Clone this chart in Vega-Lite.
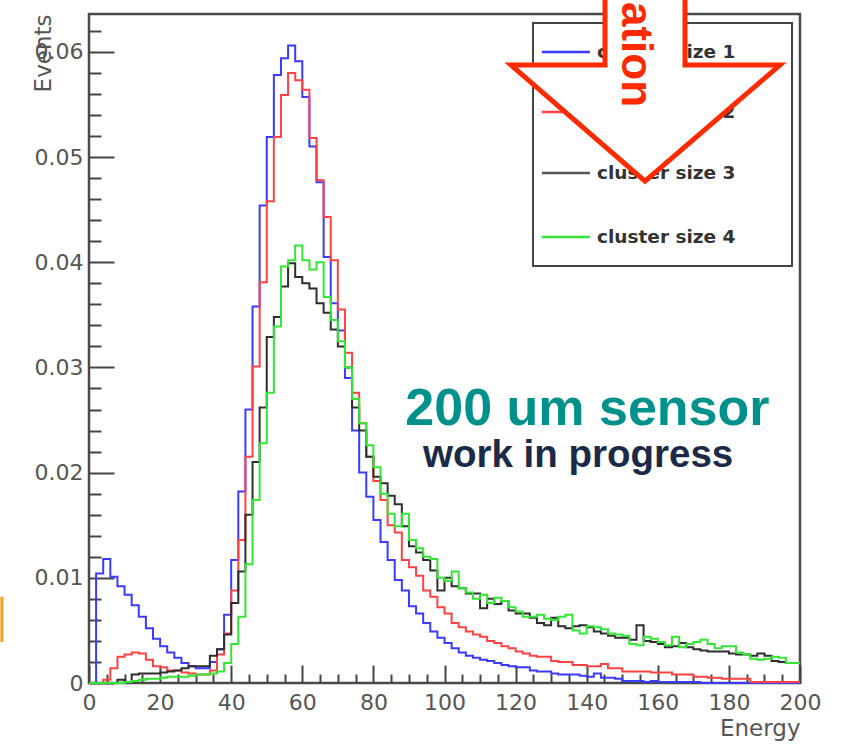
{
  "$schema": "https://vega.github.io/schema/vega-lite/v6.json",
  "autosize": {"type": "none"},
  "padding": {"left": 89, "top": 14, "right": 47, "bottom": 65},
  "width": 711,
  "height": 669,
  "background": "white",
  "config": {
    "view": {"stroke": "#4a4a4a", "strokeWidth": 2.5},
    "axis": {"grid": false, "domain": false}
  },
  "datasets": {
    "hist": [
      {"energy": 0, "size1": 0, "size2": 0, "size3": 0, "size4": 0},
      {"energy": 2, "size1": 0.0104, "size2": 0, "size3": 0, "size4": 0},
      {"energy": 4, "size1": 0.0118, "size2": 0.0003, "size3": 0, "size4": 0},
      {"energy": 6, "size1": 0.0101, "size2": 0.0014, "size3": 0, "size4": 0},
      {"energy": 8, "size1": 0.0092, "size2": 0.0025, "size3": 0.0003, "size4": 0},
      {"energy": 10, "size1": 0.0084, "size2": 0.0027, "size3": 0.0001, "size4": 0.0001},
      {"energy": 12, "size1": 0.0074, "size2": 0.0029, "size3": 0.0008, "size4": 0.0002},
      {"energy": 14, "size1": 0.0063, "size2": 0.0028, "size3": 0.0009, "size4": 0.0003},
      {"energy": 16, "size1": 0.0052, "size2": 0.0022, "size3": 0.0009, "size4": 0.0004},
      {"energy": 18, "size1": 0.0042, "size2": 0.0016, "size3": 0.0009, "size4": 0.0004},
      {"energy": 20, "size1": 0.0035, "size2": 0.0015, "size3": 0.0010, "size4": 0.0005},
      {"energy": 22, "size1": 0.0029, "size2": 0.0012, "size3": 0.0011, "size4": 0.0006},
      {"energy": 24, "size1": 0.0024, "size2": 0.0012, "size3": 0.0012, "size4": 0.0006},
      {"energy": 26, "size1": 0.0019, "size2": 0.0010, "size3": 0.0014, "size4": 0.0006},
      {"energy": 28, "size1": 0.0016, "size2": 0.0009, "size3": 0.0016, "size4": 0.0007},
      {"energy": 30, "size1": 0.0014, "size2": 0.0008, "size3": 0.0016, "size4": 0.0008},
      {"energy": 32, "size1": 0.0014, "size2": 0.0008, "size3": 0.0016, "size4": 0.0008},
      {"energy": 34, "size1": 0.0020, "size2": 0.0012, "size3": 0.0026, "size4": 0.0009},
      {"energy": 36, "size1": 0.0032, "size2": 0.0027, "size3": 0.0032, "size4": 0.0011},
      {"energy": 38, "size1": 0.0065, "size2": 0.0047, "size3": 0.0046, "size4": 0.0019},
      {"energy": 40, "size1": 0.0117, "size2": 0.0088, "size3": 0.0076, "size4": 0.0037},
      {"energy": 42, "size1": 0.0182, "size2": 0.0136, "size3": 0.0106, "size4": 0.0063},
      {"energy": 44, "size1": 0.0260, "size2": 0.0215, "size3": 0.0160, "size4": 0.0113},
      {"energy": 46, "size1": 0.0358, "size2": 0.0301, "size3": 0.0210, "size4": 0.0174},
      {"energy": 48, "size1": 0.0454, "size2": 0.0381, "size3": 0.0262, "size4": 0.0228},
      {"energy": 50, "size1": 0.0519, "size2": 0.0458, "size3": 0.0329, "size4": 0.0276},
      {"energy": 52, "size1": 0.0578, "size2": 0.0519, "size3": 0.0348, "size4": 0.0339},
      {"energy": 54, "size1": 0.0594, "size2": 0.0559, "size3": 0.0377, "size4": 0.0396},
      {"energy": 56, "size1": 0.0606, "size2": 0.0580, "size3": 0.0399, "size4": 0.0402},
      {"energy": 58, "size1": 0.0591, "size2": 0.0573, "size3": 0.0386, "size4": 0.0416},
      {"energy": 60, "size1": 0.0557, "size2": 0.0564, "size3": 0.0380, "size4": 0.0402},
      {"energy": 62, "size1": 0.0510, "size2": 0.0518, "size3": 0.0375, "size4": 0.0393},
      {"energy": 64, "size1": 0.0476, "size2": 0.0478, "size3": 0.0361, "size4": 0.0400},
      {"energy": 66, "size1": 0.0405, "size2": 0.0443, "size3": 0.0352, "size4": 0.0367},
      {"energy": 68, "size1": 0.0361, "size2": 0.0402, "size3": 0.0336, "size4": 0.0345},
      {"energy": 70, "size1": 0.0335, "size2": 0.0355, "size3": 0.0320, "size4": 0.0325},
      {"energy": 72, "size1": 0.0290, "size2": 0.0314, "size3": 0.0300, "size4": 0.0300},
      {"energy": 74, "size1": 0.0240, "size2": 0.0276, "size3": 0.0262, "size4": 0.0270},
      {"energy": 76, "size1": 0.0200, "size2": 0.0247, "size3": 0.0240, "size4": 0.0247},
      {"energy": 78, "size1": 0.0177, "size2": 0.0215, "size3": 0.0215, "size4": 0.0226},
      {"energy": 80, "size1": 0.0155, "size2": 0.0192, "size3": 0.0196, "size4": 0.0205},
      {"energy": 82, "size1": 0.0134, "size2": 0.0174, "size3": 0.0190, "size4": 0.0180},
      {"energy": 84, "size1": 0.0117, "size2": 0.0150, "size3": 0.0178, "size4": 0.0161},
      {"energy": 86, "size1": 0.0098, "size2": 0.0143, "size3": 0.0170, "size4": 0.0149},
      {"energy": 88, "size1": 0.0088, "size2": 0.0117, "size3": 0.0149, "size4": 0.0161},
      {"energy": 90, "size1": 0.0073, "size2": 0.0110, "size3": 0.0130, "size4": 0.0136},
      {"energy": 92, "size1": 0.0066, "size2": 0.0102, "size3": 0.0124, "size4": 0.0128},
      {"energy": 94, "size1": 0.0057, "size2": 0.0088, "size3": 0.0117, "size4": 0.0120},
      {"energy": 96, "size1": 0.0049, "size2": 0.0082, "size3": 0.0107, "size4": 0.0118},
      {"energy": 98, "size1": 0.0043, "size2": 0.0072, "size3": 0.0088, "size4": 0.0100},
      {"energy": 100, "size1": 0.0038, "size2": 0.0066, "size3": 0.0100, "size4": 0.0097},
      {"energy": 102, "size1": 0.0033, "size2": 0.0057, "size3": 0.0092, "size4": 0.0106},
      {"energy": 104, "size1": 0.0029, "size2": 0.0053, "size3": 0.0090, "size4": 0.0090},
      {"energy": 106, "size1": 0.0026, "size2": 0.0049, "size3": 0.0085, "size4": 0.0086},
      {"energy": 108, "size1": 0.0024, "size2": 0.0046, "size3": 0.0085, "size4": 0.0080},
      {"energy": 110, "size1": 0.0022, "size2": 0.0044, "size3": 0.0071, "size4": 0.0084},
      {"energy": 112, "size1": 0.0021, "size2": 0.0040, "size3": 0.0080, "size4": 0.0076},
      {"energy": 114, "size1": 0.0019, "size2": 0.0038, "size3": 0.0075, "size4": 0.0081},
      {"energy": 116, "size1": 0.0017, "size2": 0.0035, "size3": 0.0078, "size4": 0.0078},
      {"energy": 118, "size1": 0.0016, "size2": 0.0033, "size3": 0.0069, "size4": 0.0072},
      {"energy": 120, "size1": 0.0015, "size2": 0.0030, "size3": 0.0066, "size4": 0.0068},
      {"energy": 122, "size1": 0.0015, "size2": 0.0028, "size3": 0.0066, "size4": 0.0063},
      {"energy": 124, "size1": 0.0012, "size2": 0.0026, "size3": 0.0062, "size4": 0.0063},
      {"energy": 126, "size1": 0.0011, "size2": 0.0025, "size3": 0.0057, "size4": 0.0065},
      {"energy": 128, "size1": 0.0011, "size2": 0.0025, "size3": 0.0055, "size4": 0.0061},
      {"energy": 130, "size1": 0.0009, "size2": 0.0021, "size3": 0.0062, "size4": 0.0060},
      {"energy": 132, "size1": 0.0008, "size2": 0.0020, "size3": 0.0054, "size4": 0.0063},
      {"energy": 134, "size1": 0.0008, "size2": 0.0020, "size3": 0.0052, "size4": 0.0065},
      {"energy": 136, "size1": 0.0008, "size2": 0.0017, "size3": 0.0054, "size4": 0.0050},
      {"energy": 138, "size1": 0.0007, "size2": 0.0017, "size3": 0.0055, "size4": 0.0047},
      {"energy": 140, "size1": 0.0006, "size2": 0.0016, "size3": 0.0053, "size4": 0.0054},
      {"energy": 142, "size1": 0.0009, "size2": 0.0016, "size3": 0.0049, "size4": 0.0053},
      {"energy": 144, "size1": 0.0005, "size2": 0.0018, "size3": 0.0047, "size4": 0.0051},
      {"energy": 146, "size1": 0.0005, "size2": 0.0014, "size3": 0.0045, "size4": 0.0047},
      {"energy": 148, "size1": 0.0004, "size2": 0.0014, "size3": 0.0043, "size4": 0.0046},
      {"energy": 150, "size1": 0.0002, "size2": 0.0011, "size3": 0.0043, "size4": 0.0045},
      {"energy": 152, "size1": 0.0002, "size2": 0.0011, "size3": 0.0041, "size4": 0.0037},
      {"energy": 154, "size1": 0.0002, "size2": 0.0011, "size3": 0.0055, "size4": 0.0036},
      {"energy": 156, "size1": 0.0001, "size2": 0.0011, "size3": 0.0040, "size4": 0.0044},
      {"energy": 158, "size1": 0.0002, "size2": 0.0010, "size3": 0.0039, "size4": 0.0042},
      {"energy": 160, "size1": 0.0001, "size2": 0.0010, "size3": 0.0037, "size4": 0.0039},
      {"energy": 162, "size1": 0.0001, "size2": 0.0010, "size3": 0.0034, "size4": 0.0036},
      {"energy": 164, "size1": 0.0001, "size2": 0.0008, "size3": 0.0035, "size4": 0.0044},
      {"energy": 166, "size1": 0.0001, "size2": 0.0008, "size3": 0.0038, "size4": 0.0034},
      {"energy": 168, "size1": 0.0001, "size2": 0.0008, "size3": 0.0034, "size4": 0.0037},
      {"energy": 170, "size1": 0.0001, "size2": 0.0006, "size3": 0.0032, "size4": 0.0039},
      {"energy": 172, "size1": 0, "size2": 0.0006, "size3": 0.0031, "size4": 0.0041},
      {"energy": 174, "size1": 0, "size2": 0.0005, "size3": 0.0030, "size4": 0.0037},
      {"energy": 176, "size1": 0, "size2": 0.0005, "size3": 0.0030, "size4": 0.0033},
      {"energy": 178, "size1": 0, "size2": 0.0004, "size3": 0.0030, "size4": 0.0035},
      {"energy": 180, "size1": 0, "size2": 0.0004, "size3": 0.0028, "size4": 0.0035},
      {"energy": 182, "size1": 0, "size2": 0.0004, "size3": 0.0027, "size4": 0.0029},
      {"energy": 184, "size1": 0, "size2": 0.0004, "size3": 0.0027, "size4": 0.0027},
      {"energy": 186, "size1": 0, "size2": 0.0001, "size3": 0.0026, "size4": 0.0023},
      {"energy": 188, "size1": 0, "size2": 0.0001, "size3": 0.0028, "size4": 0.0022},
      {"energy": 190, "size1": 0, "size2": 0.0001, "size3": 0.0026, "size4": 0.0023},
      {"energy": 192, "size1": 0, "size2": 0.0001, "size3": 0.0021, "size4": 0.0025},
      {"energy": 194, "size1": 0, "size2": 0.0001, "size3": 0.0020, "size4": 0.0024},
      {"energy": 196, "size1": 0, "size2": 0.0001, "size3": 0.0019, "size4": 0.0019},
      {"energy": 198, "size1": 0, "size2": 0.0001, "size3": 0.0019, "size4": 0.0019},
      {"energy": 200, "size1": 0, "size2": 0.0001, "size3": 0.0019, "size4": 0.0019}
    ]
  },
  "layer": [
    {
      "data": {"name": "hist"},
      "mark": {"type": "line", "interpolate": "step-after", "stroke": "#3b3bff", "strokeWidth": 2},
      "encoding": {
        "x": {
          "field": "energy", "type": "quantitative",
          "scale": {"domain": [0, 200], "nice": false, "zero": false},
          "axis": {
            "values": [0,5,10,15,20,25,30,35,40,45,50,55,60,65,70,75,80,85,90,95,100,105,110,115,120,125,130,135,140,145,150,155,160,165,170,175,180,185,190,195,200],
            "tickCount": 200,
            "labelExpr": "datum.value % 20 === 0 ? datum.label : ''",
            "tickSize": {"condition": {"test": "datum.value % 20 === 0", "value": -18}, "value": -9},
            "labelPadding": 27,
            "tickColor": "#444444", "tickWidth": 2,
            "labelFont": "DejaVu Sans", "labelFontSize": 22, "labelColor": "#555555",
            "labelFlush": false, "labelOverlap": false, "labelBound": false,
            "title": "Energy", "titleFont": "DejaVu Sans", "titleFontSize": 23, "titleFontWeight": "normal", "titleColor": "#555555",
            "titleX": 711, "titleY": 52, "titleAlign": "right", "titleBaseline": "alphabetic", "titleAngle": 0
          }
        },
        "y": {
          "field": "size1", "type": "quantitative",
          "scale": {"domain": [0, 0.0636], "nice": false, "zero": false},
          "axis": {
            "values": [0,0.002,0.004,0.006,0.008,0.01,0.012,0.014,0.016,0.018,0.02,0.022,0.024,0.026,0.028,0.03,0.032,0.034,0.036,0.038,0.04,0.042,0.044,0.046,0.048,0.05,0.052,0.054,0.056,0.058,0.06,0.062],
            "tickCount": 200,
            "format": ".2~f",
            "labelExpr": "round(datum.value*1000) % 10 === 0 ? datum.label : ''",
            "tickSize": {"condition": {"test": "round(datum.value*1000) % 10 === 0", "value": -25}, "value": -12},
            "labelPadding": 31,
            "tickColor": "#444444", "tickWidth": 2,
            "labelFont": "DejaVu Sans", "labelFontSize": 22, "labelColor": "#555555",
            "labelOverlap": false, "labelBound": false, "labelFlush": false,
            "title": "Events", "titleFont": "DejaVu Sans", "titleFontSize": 23, "titleFontWeight": "normal", "titleColor": "#555555",
            "titleX": -39, "titleY": 0, "titleAngle": 270, "titleAlign": "right", "titleBaseline": "alphabetic"
          }
        }
      }
    },
    {
      "data": {"name": "hist"},
      "mark": {"type": "line", "interpolate": "step-after", "stroke": "#ff4343", "strokeWidth": 2},
      "encoding": {"x": {"field": "energy", "type": "quantitative"}, "y": {"field": "size2", "type": "quantitative"}}
    },
    {
      "data": {"name": "hist"},
      "mark": {"type": "line", "interpolate": "step-after", "stroke": "#2e2e2e", "strokeWidth": 2},
      "encoding": {"x": {"field": "energy", "type": "quantitative"}, "y": {"field": "size3", "type": "quantitative"}}
    },
    {
      "data": {"name": "hist"},
      "mark": {"type": "line", "interpolate": "step-after", "stroke": "#33e633", "strokeWidth": 2},
      "encoding": {"x": {"field": "energy", "type": "quantitative"}, "y": {"field": "size4", "type": "quantitative"}}
    },
    {
      "data": {"values": [{}]},
      "mark": {"type": "rect", "fill": "white", "stroke": "#444444", "strokeWidth": 2},
      "encoding": {"x": {"datum": 124.9}, "x2": {"datum": 197.75}, "y": {"datum": 0.06274}, "y2": {"datum": 0.03964}}
    },
    {
      "data": {"values": [{}]},
      "mark": {"type": "rule", "stroke": "#3b3bff", "strokeWidth": 2.5},
      "encoding": {"x": {"datum": 127.4}, "x2": {"datum": 140.9}, "y": {"datum": 0.05998}}
    },
    {
      "data": {"values": [{}]},
      "mark": {"type": "rule", "stroke": "#ff4343", "strokeWidth": 2.5},
      "encoding": {"x": {"datum": 127.4}, "x2": {"datum": 140.9}, "y": {"datum": 0.05428}}
    },
    {
      "data": {"values": [{}]},
      "mark": {"type": "rule", "stroke": "#555555", "strokeWidth": 2.5},
      "encoding": {"x": {"datum": 127.4}, "x2": {"datum": 140.9}, "y": {"datum": 0.04848}}
    },
    {
      "data": {"values": [{}]},
      "mark": {"type": "rule", "stroke": "#33e633", "strokeWidth": 2.5},
      "encoding": {"x": {"datum": 127.4}, "x2": {"datum": 140.9}, "y": {"datum": 0.04240}}
    },
    {
      "data": {"values": [{}]},
      "mark": {"type": "text", "text": "cluster size 1", "align": "left", "baseline": "middle", "font": "DejaVu Sans", "fontSize": 18.5, "fontWeight": "bold", "fill": "#333333"},
      "encoding": {"x": {"datum": 142.9}, "y": {"datum": 0.05998}}
    },
    {
      "data": {"values": [{}]},
      "mark": {"type": "text", "text": "cluster size 2", "align": "left", "baseline": "middle", "font": "DejaVu Sans", "fontSize": 18.5, "fontWeight": "bold", "fill": "#333333"},
      "encoding": {"x": {"datum": 142.9}, "y": {"datum": 0.05428}}
    },
    {
      "data": {"values": [{}]},
      "mark": {"type": "text", "text": "cluster size 3", "align": "left", "baseline": "middle", "font": "DejaVu Sans", "fontSize": 18.5, "fontWeight": "bold", "fill": "#333333"},
      "encoding": {"x": {"datum": 142.9}, "y": {"datum": 0.04848}}
    },
    {
      "data": {"values": [{}]},
      "mark": {"type": "text", "text": "cluster size 4", "align": "left", "baseline": "middle", "font": "DejaVu Sans", "fontSize": 18.5, "fontWeight": "bold", "fill": "#333333"},
      "encoding": {"x": {"datum": 142.9}, "y": {"datum": 0.04240}}
    },
    {
      "data": {"values": [{}]},
      "mark": {"type": "point", "shape": "M-0.2857,-0.714L-0.2857,0L-0.957,0L0,0.829L0.964,0L0.2857,0L0.2857,-0.714Z", "size": 78400, "filled": true, "fill": "white", "fillOpacity": 1, "stroke": "#ff2a00", "strokeWidth": 5, "strokeOpacity": 1, "opacity": 1, "strokeJoin": "miter"},
      "encoding": {"x": {"datum": 156.4}, "y": {"datum": 0.05875}}
    },
    {
      "data": {"values": [{}]},
      "mark": {"type": "text", "text": "ation", "angle": 90, "align": "right", "baseline": "alphabetic", "font": "Liberation Sans", "fontSize": 44, "fontWeight": "bold", "fill": "#ff2a00"},
      "encoding": {"x": {"datum": 149.9}, "y": {"datum": 0.05475}}
    },
    {
      "data": {"values": [{}]},
      "mark": {"type": "text", "text": "200 um sensor", "align": "center", "baseline": "alphabetic", "font": "Liberation Sans", "fontSize": 52, "fontWeight": "bold", "fill": "#00918c"},
      "encoding": {"x": {"datum": 140.2}, "y": {"datum": 0.02452}}
    },
    {
      "data": {"values": [{}]},
      "mark": {"type": "text", "text": "work in progress", "align": "center", "baseline": "alphabetic", "font": "Liberation Sans", "fontSize": 38.5, "fontWeight": "bold", "fill": "#1b2a47"},
      "encoding": {"x": {"datum": 137.6}, "y": {"datum": 0.02053}}
    },
    {
      "data": {"values": [{}]},
      "mark": {"type": "rule", "stroke": "#f5a01a", "strokeWidth": 3},
      "encoding": {"x": {"datum": -24.5}, "y": {"datum": 0.0082}, "y2": {"datum": 0.0039}}
    }
  ]
}
